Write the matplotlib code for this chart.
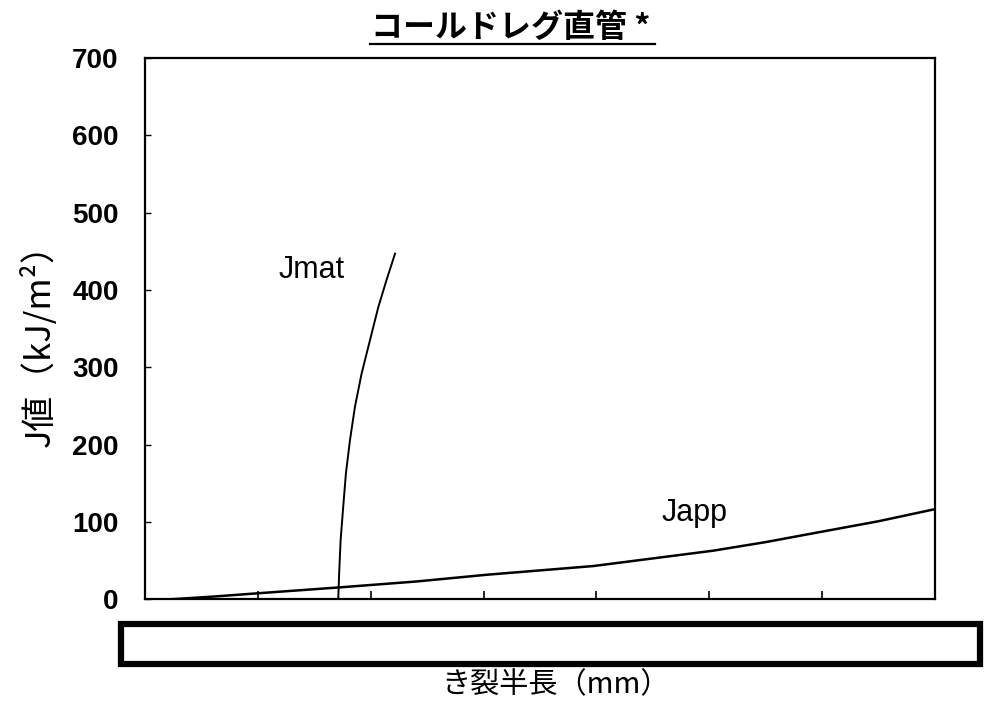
import matplotlib
matplotlib.use("Agg")
import matplotlib.pyplot as plt
from matplotlib.patches import Rectangle
from matplotlib.lines import Line2D

plt.rcParams['font.family'] = ['Noto Sans CJK JP', 'DejaVu Sans']

# crack half length (mm) vs J value (kJ/m2)
japp_x = [2.2, 6.0, 9.9, 17.3, 24.0, 30.3, 39.7, 50.3, 55.0, 59.8, 65.0, 69.8]
japp_y = [0.0, 3.5, 7.7, 15.5, 23.0, 31.8, 43.0, 62.8, 74.0, 87.0, 101.0, 116.0]

jmat_x = [17.12, 17.2, 17.33, 17.56, 17.8, 18.16, 18.6, 19.19, 19.93, 20.67, 21.4, 22.15]
jmat_y = [0.0, 33.6, 76.7, 119.7, 163.0, 206.0, 249.0, 292.0, 335.0, 378.0, 413.0, 447.0]

y_ticks = [0, 100, 200, 300, 400, 500, 600, 700]
x_ticks = [0, 10, 20, 30, 40, 50, 60, 70]

title = "コールドレグ直管 *"
ylab = "J値（kJ/m²）"
xlab = "き裂半長（mm）"

fig = plt.figure(figsize=(9.88, 7.04), dpi=100)
ax = fig.add_axes([0.1468, 0.1487, 0.7996, 0.7689])

ax.plot(japp_x, japp_y, color="black", linewidth=1.8)
ax.plot(jmat_x, jmat_y, color="black", linewidth=1.4)

ax.set_xlim(0, 70)
ax.set_ylim(0, 700)
ax.set_xticks(x_ticks)
ax.set_xticklabels([])
ax.set_yticks(y_ticks)
ax.set_yticklabels([str(v) for v in y_ticks], fontfamily="Liberation Sans",
                   fontweight="bold", fontsize=20)
ax.tick_params(axis="x", direction="in", length=6, width=1.2)
ax.tick_params(axis="y", direction="in", length=4, width=1.0, pad=19)
for s in ax.spines.values():
    s.set_linewidth(1.6)

ax.text(11.8, 426, "Jmat", fontfamily="Liberation Sans", fontsize=22,
        va="center", ha="left")
ax.text(45.8, 111, "Japp", fontfamily="Liberation Sans", fontsize=22,
        va="center", ha="left")

# title with underline
fig.text(0.517, 0.96, title, fontsize=23, fontweight="bold", ha="center",
         va="center")
fig.add_artist(Line2D([0.374, 0.663], [0.937, 0.937], color="black",
                      linewidth=1.6, transform=fig.transFigure))

fig.text(0.04, 0.522, ylab, fontsize=25, rotation=90,
         ha="center", va="center")
fig.text(0.562, 0.026, xlab, fontsize=21, ha="center", va="center")

# blank box over the x tick labels
fig.add_artist(Rectangle((0.1225, 0.0575), 0.869, 0.056, fill=True,
                         facecolor="white", edgecolor="black", linewidth=4.5,
                         transform=fig.transFigure))

fig.savefig("out.png", dpi=100)
